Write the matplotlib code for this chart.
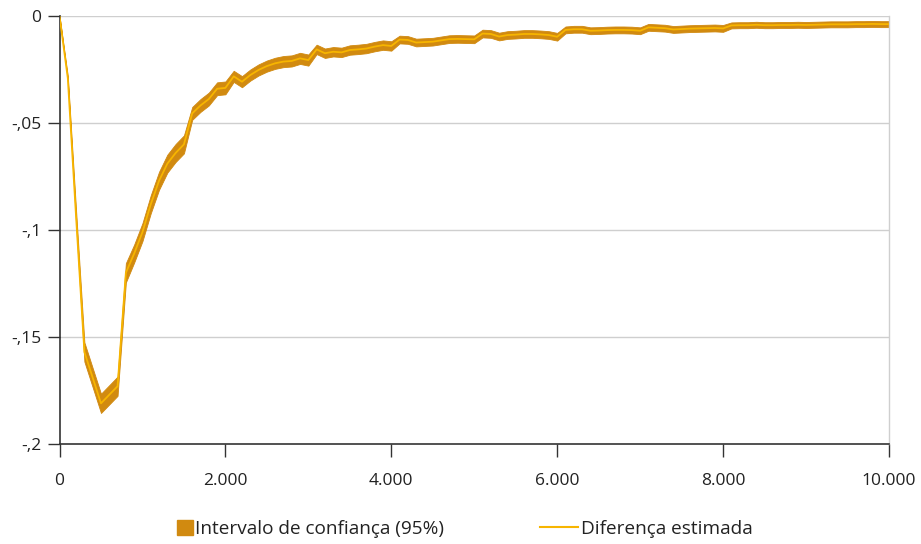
import numpy as np
import matplotlib
matplotlib.use("Agg")
import matplotlib.pyplot as plt
from matplotlib.patches import Patch
from matplotlib.lines import Line2D

plt.rcParams['font.family'] = ['Open Sans', 'DejaVu Sans']

# Distance (x) and estimated difference with its 95% confidence half-width
distance = list(range(0, 10001, 100))
estimate = [
    0.0, -0.029, -0.094, -0.157, -0.169, -0.181, -0.177, -0.173, -0.120, -0.111,
    -0.101, -0.088, -0.077, -0.069, -0.064, -0.060, -0.0455, -0.0418, -0.0388, -0.0340,
    -0.0336, -0.0282, -0.0307, -0.0276, -0.0252, -0.0234, -0.0221, -0.0213, -0.0210, -0.0198,
    -0.0206, -0.0156, -0.0174, -0.0167, -0.0170, -0.0159, -0.0156, -0.0152, -0.0143, -0.0136,
    -0.0140, -0.0110, -0.0112, -0.0124, -0.0122, -0.0120, -0.0114, -0.0108, -0.0107, -0.0108,
    -0.0109, -0.0082, -0.0084, -0.0096, -0.0089, -0.0087, -0.0084, -0.0084, -0.0086, -0.0089,
    -0.0097, -0.0065, -0.0062, -0.0062, -0.0069, -0.0068, -0.0066, -0.0065, -0.0065, -0.0066,
    -0.0069, -0.0053, -0.0055, -0.0057, -0.0063, -0.0061, -0.0059, -0.0058, -0.0057, -0.0056,
    -0.0058, -0.0044, -0.0043, -0.0043, -0.0041, -0.0043, -0.0043, -0.0042, -0.0042, -0.0041,
    -0.0042, -0.0041, -0.0040, -0.0039, -0.0039, -0.0039, -0.0038, -0.0038, -0.0037, -0.0038,
    -0.0038,
]
half_width = (
    [0.0, 0.001, 0.003]
    + [0.0045] * 6          # 300 - 800
    + [0.0042] * 7          # 900 - 1500
    + [0.0030] * 5          # 1600 - 2000
    + [0.0026] * 10         # 2100 - 3000
    + [0.0022] * 10         # 3100 - 4000
    + [0.0018] * 20         # 4100 - 6000
    + [0.0016] * 20         # 6100 - 8000
    + [0.0014] * 20         # 8100 - 10000
)

x_ticks = [0, 2000, 4000, 6000, 8000, 10000]
x_labels = ["0", "2.000", "4.000", "6.000", "8.000", "10.000"]
y_ticks = [0, -0.05, -0.1, -0.15, -0.2]
y_labels = ["0", "-,05", "-,1", "-,15", "-,2"]

band_color = "#D18A10"
line_color = "#F7B500"
grid_color = "#CFCFCF"
spine_color = "#333333"

x = np.array(distance)
est = np.array(estimate)
hw = np.array(half_width)

fig = plt.figure(figsize=(9.21, 5.44), dpi=100)
ax = fig.add_axes([59.5 / 921, 1 - 444 / 544, (889 - 59.5) / 921, (444 - 16) / 544])

ax.fill_between(x, est - hw, est + hw, color=band_color, linewidth=0.6,
                edgecolor=band_color, zorder=2)
ax.plot(x, est, color=line_color, linewidth=1.3, zorder=3)

ax.set_xlim(0, 10000)
ax.set_ylim(-0.2, 0)
ax.set_xticks(x_ticks)
ax.set_xticklabels(x_labels)
ax.set_yticks(y_ticks)
ax.set_yticklabels(y_labels)

for yv in y_ticks[:-1]:
    ax.axhline(yv, color=grid_color, linewidth=1.0, zorder=1)

ax.spines['top'].set_visible(False)
ax.spines['right'].set_color(grid_color)
ax.spines['right'].set_linewidth(1.0)
for side in ('left', 'bottom'):
    ax.spines[side].set_color(spine_color)
    ax.spines[side].set_linewidth(1.2)

ax.tick_params(axis='both', direction='out', length=9, width=1.0,
               color=spine_color, labelsize=12.5, labelcolor="#222222")
ax.tick_params(axis='x', pad=12)
ax.tick_params(axis='y', pad=4)
for lbl in ax.get_xticklabels():
    lbl.set_clip_on(False)

leg_size = 13.7
leg1 = fig.legend(handles=[Patch(facecolor=band_color, edgecolor=band_color)],
                  labels=["Intervalo de confiança (95%)"],
                  loc='center left', bbox_to_anchor=(177 / 921, 1 - 529 / 544),
                  frameon=False, fontsize=leg_size, handlelength=0.85, handleheight=0.85,
                  handletextpad=0.1, borderpad=0, borderaxespad=0)
leg2 = fig.legend(handles=[Line2D([], [], color=line_color, linewidth=1.5)],
                  labels=["Diferença estimada"],
                  loc='center left', bbox_to_anchor=(540 / 921, 1 - 529 / 544),
                  frameon=False, fontsize=leg_size, handlelength=2.0,
                  handletextpad=0.15, borderpad=0, borderaxespad=0)
for leg in (leg1, leg2):
    for t in leg.get_texts():
        t.set_color("#222222")

fig.savefig("out.png", dpi=100, facecolor="white")
